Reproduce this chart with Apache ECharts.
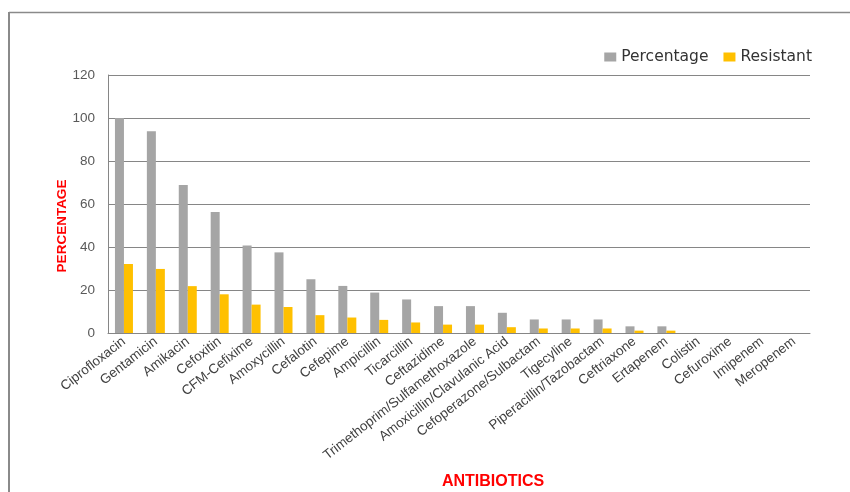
<!DOCTYPE html>
<html>
<head>
<meta charset="utf-8">
<script src="https://cdn.jsdelivr.net/npm/echarts@6/dist/echarts.min.js"></script>
<style>
html,body{margin:0;padding:0;background:#fff;}
#chart{width:850px;height:492px;}
</style>
</head>
<body>
<div id="chart"></div>
<script>
const categories = ["Ciprofloxacin","Gentamicin","Amikacin","Cefoxitin","CFM-Cefixime","Amoxycillin","Cefalotin","Cefepime","Ampicillin","Ticarcillin","Ceftazidime","Trimethoprim/Sulfamethoxazole","Amoxicillin/Clavulanic Acid","Cefoperazone/Sulbactam","Tigecyline","Piperacillin/Tazobactam","Ceftriaxone","Ertapenem","Colistin","Cefuroxime","Imipenem","Meropenem"];
const percentage = [100,93.8,68.8,56.3,40.7,37.5,25,21.9,18.8,15.6,12.5,12.5,9.4,6.3,6.3,6.3,3.1,3.1,0,0,0,0];
const resistant = [32.1,29.8,21.8,18,13.2,12.1,8.3,7.2,6.1,4.9,3.9,3.9,2.7,2.1,2.1,2.1,1.1,1.1,0,0,0,0];
const yTicks = {min:0,max:120,interval:20};
const seriesNames = ["Percentage","Resistant"];
const xTitle = "ANTIBIOTICS";
const yTitle = "PERCENTAGE";

const chart = echarts.init(document.getElementById('chart'));
chart.setOption({
  animation:false,
  backgroundColor:'#fff',
  grid:{left:108,right:40,top:75,bottom:159},
  legend:{
    right:33, top:44, itemWidth:12, itemHeight:9, itemGap:15,
    icon:'rect',
    textStyle:{fontFamily:'DejaVu Sans',fontSize:15.5,color:'#333'},
    data:seriesNames
  },
  xAxis:{
    type:'category', data:categories,
    axisLine:{lineStyle:{color:'#868686',width:1}},
    axisTick:{show:false},
    axisLabel:{rotate:38,interval:0,margin:7,fontFamily:'Liberation Sans',fontSize:13.5,color:'#404040'}
  },
  yAxis:{
    type:'value', min:yTicks.min, max:yTicks.max, interval:yTicks.interval,
    axisLine:{show:true,lineStyle:{color:'#868686',width:1}},
    axisTick:{show:false},
    axisLabel:{margin:13,fontFamily:'Liberation Sans',fontSize:13.5,color:'#595959'},
    splitLine:{lineStyle:{color:'#868686',width:1}}
  },
  series:[
    {name:seriesNames[0],type:'bar',data:percentage,barWidth:9,barGap:'0%',itemStyle:{color:'#A5A5A5'}},
    {name:seriesNames[1],type:'bar',data:resistant,barWidth:9,barGap:'0%',itemStyle:{color:'#FFC000'}}
  ],
  graphic:[
    {type:'line',shape:{x1:9,y1:12.5,x2:850,y2:12.5},style:{stroke:'#8a8a8a',lineWidth:1.3}},
    {type:'line',shape:{x1:9,y1:12,x2:9,y2:492},style:{stroke:'#8a8a8a',lineWidth:2}},
    {type:'text',x:62,y:226,rotation:Math.PI/2,style:{text:yTitle,fill:'#FF0000',font:'bold 13.5px "Liberation Sans"',align:'center',verticalAlign:'middle'}},
    {type:'text',x:493,y:482,style:{text:xTitle,fill:'#FF0000',font:'bold 16px "Liberation Sans"',align:'center',verticalAlign:'middle'}}
  ]
});
</script>
</body>
</html>
